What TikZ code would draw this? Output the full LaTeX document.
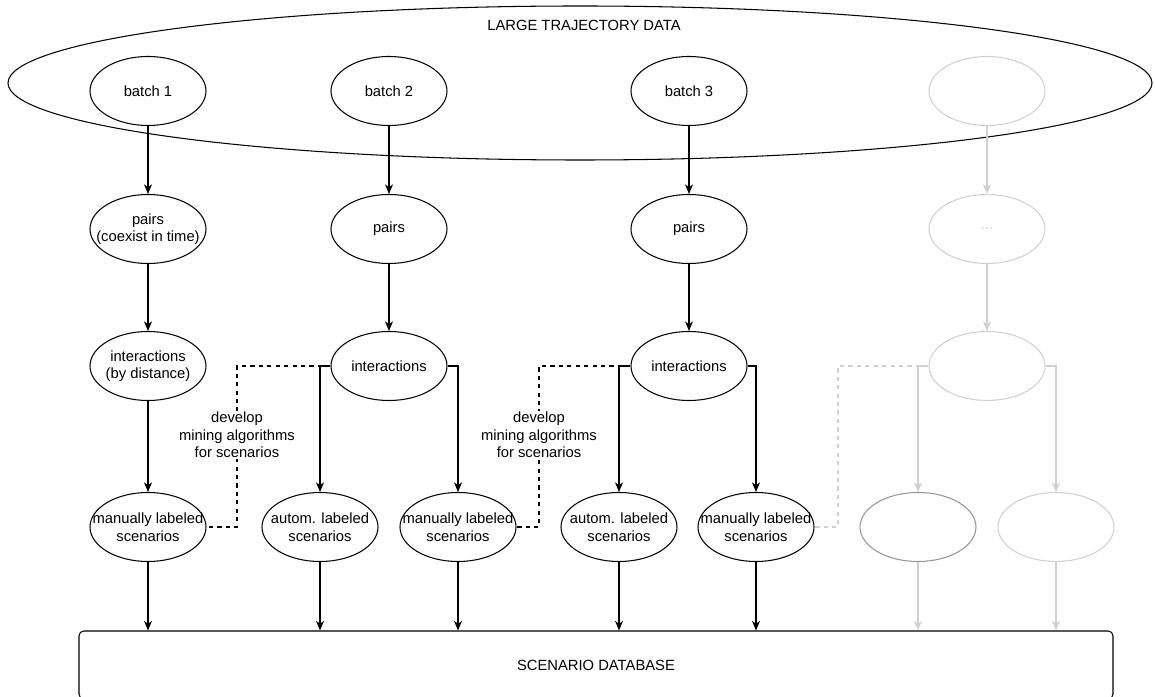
\documentclass[tikz,border=0pt]{standalone}
\usepackage{fontspec}
\setmainfont{Liberation Sans}
\usetikzlibrary{shapes.geometric}
\usetikzlibrary{arrows.meta}
\definecolor{faded}{RGB}{208,208,208}
\definecolor{fadeddark}{RGB}{150,150,150}

\begin{document}
\begin{tikzpicture}[x=0.25mm, y=0.25mm, line width=0.75pt,
    font=\fontsize{10.5}{12.5}\selectfont,
    oval/.style={draw, ellipse, minimum width=29mm, minimum height=17.25mm, inner sep=0pt,
        label={[align=center]center:#1}},
    oval/.default={},
    pfeil/.style={-{Stealth[length=2.4mm, width=2mm, inset=0.7mm]}}]

    \useasboundingbox (0,0) rectangle (1155,696);

    % data set with its batches
    \node[draw, ellipse, minimum width=286mm, minimum height=38.5mm] (data) at (580,613) {};
    \node (datatitle) at (584,671) {LARGE TRAJECTORY DATA};

    \node[oval={batch 1}] (b1) at (148,605) {};
    \node[oval={batch 2}] (b2) at (389,605) {};
    \node[oval={batch 3}] (b3) at (689,605) {};
    \node[oval, draw=faded] (b4) at (987,605) {};

    \node[oval={pairs\\(coexist in time)}] (p1) at (148,467) {};
    \node[oval={pairs}] (p2) at (389,467) {};
    \node[oval={pairs}] (p3) at (689,467) {};
    \node[oval={\color{faded}...}, draw=faded] (p4) at (987,467) {};

    \node[oval={interactions\\(by distance)}] (i1) at (148,330) {};
    \node[oval={interactions}] (i2) at (389,330) {};
    \node[oval={interactions}] (i3) at (689,330) {};
    \node[oval, draw=faded] (i4) at (987,330) {};

    \node[oval={manually labeled\\scenarios}] (m1) at (148,169) {};
    \node[oval={autom. labeled\\scenarios}] (a2) at (320,169) {};
    \node[oval={manually labeled\\scenarios}] (m2) at (458,169) {};
    \node[oval={autom. labeled\\scenarios}] (a3) at (619,169) {};
    \node[oval={manually labeled\\scenarios}] (m3) at (756,169) {};
    \node[oval, draw=fadeddark] (g1) at (918,169) {};
    \node[oval, draw=faded] (g2) at (1056,169) {};

    \node[draw, rounded corners=1.2mm, minimum width=258.5mm, minimum height=17mm] (db) at (596,31) {SCENARIO DATABASE};

    % flow down the columns
    \foreach \a/\b in {b1/p1, b2/p2, b3/p3, p1/i1, p2/i2, p3/i3, i1/m1}{
        \draw[pfeil] (\a) -- (\b);
    }
    \draw[pfeil] (i2.west) -| (a2);
    \draw[pfeil] (i2.east) -| (m2);
    \draw[pfeil] (i3.west) -| (a3);
    \draw[pfeil] (i3.east) -| (m3);
    \foreach \n in {m1,a2,m2,a3,m3}{
        \draw[pfeil] (\n) -- (\n |- db.north);
    }

    \draw[pfeil, faded] (b4) -- (p4);
    \draw[pfeil, faded] (p4) -- (i4);
    \draw[pfeil, faded] (i4.west) -| (g1);
    \draw[pfeil, faded] (i4.east) -| (g2);
    \draw[pfeil, faded] (g1) -- (g1 |- db.north);
    \draw[pfeil, faded] (g2) -- (g2 |- db.north);

    % mining algorithms
    \coordinate (d2) at (237,330);
    \coordinate (d3) at (539,330);
    \coordinate (d4) at (838,330);
    \draw[dashed] (i2.west) -- (d2) |- (m1);
    \draw[dashed] (i3.west) -- (d3) |- (m2);
    \draw[dashed, faded] (i4.west) -- (d4) |- (m3);

    \node[fill=white, align=center, inner sep=1pt] (dev2) at (237,261) {develop\\mining algorithms\\for scenarios};
    \node[fill=white, align=center, inner sep=1pt] (dev3) at (539,261) {develop\\mining algorithms\\for scenarios};

\end{tikzpicture}
\end{document}
